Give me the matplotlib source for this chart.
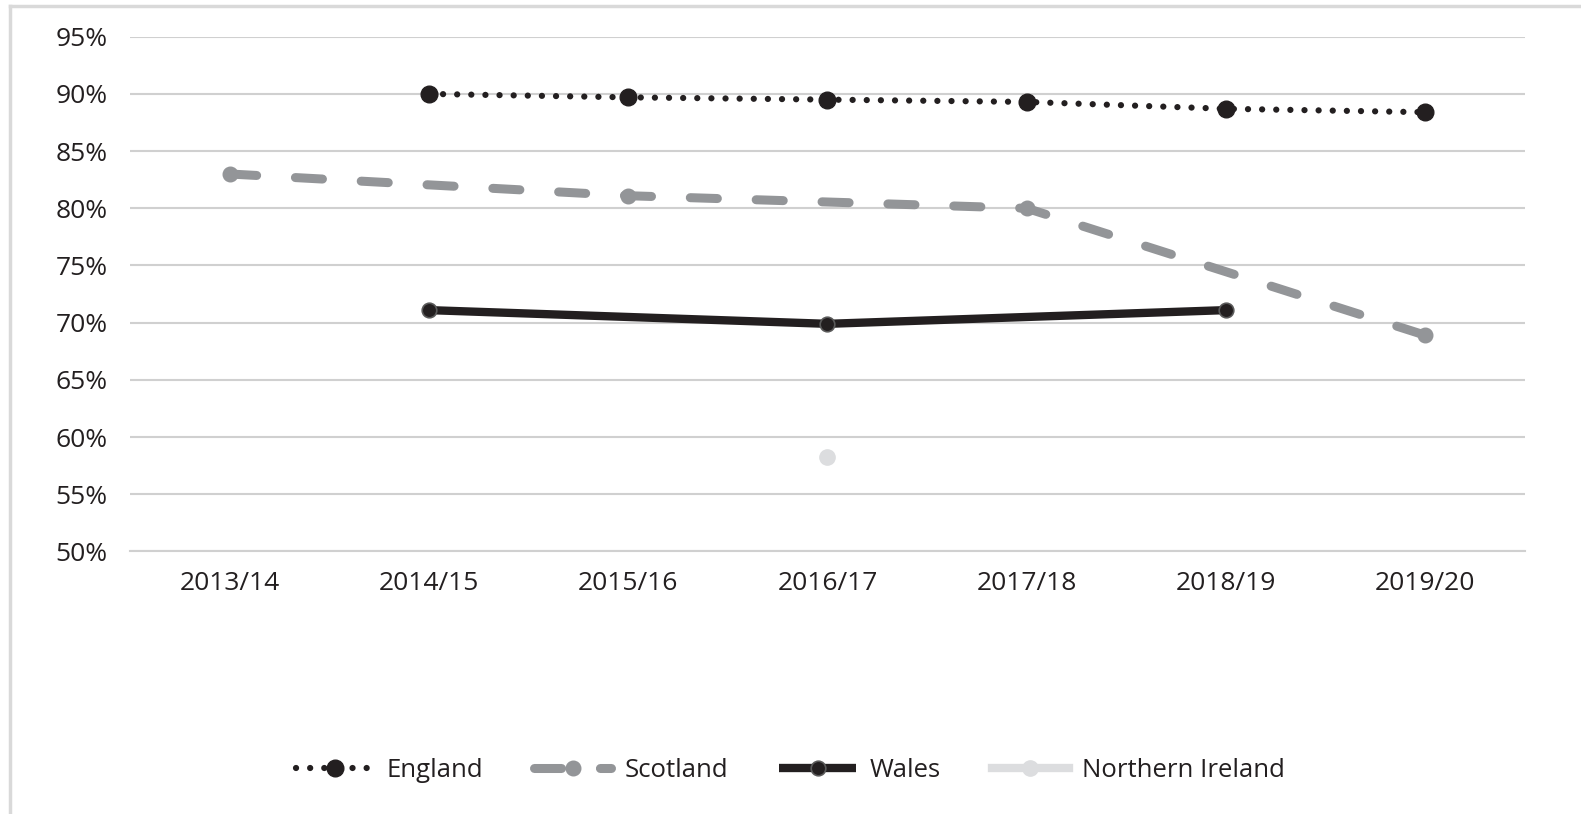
import matplotlib
matplotlib.use("Agg")
import matplotlib.pyplot as plt
import numpy as np

plt.rcParams['font.family'] = ['Open Sans', 'DejaVu Sans']

years = ["2013/14", "2014/15", "2015/16", "2016/17", "2017/18", "2018/19", "2019/20"]
england = [np.nan, 90.0, 89.7, 89.5, 89.3, 88.7, 88.4]
scotland = [83.0, np.nan, 81.1, np.nan, 80.0, np.nan, 68.9]
wales = [np.nan, 71.1, np.nan, 69.9, np.nan, 71.1, np.nan]
nireland = [np.nan, np.nan, np.nan, 58.3, np.nan, np.nan, np.nan]
yticks = [50, 55, 60, 65, 70, 75, 80, 85, 90, 95]

fig = plt.figure(figsize=(15.81, 8.14), dpi=100)
ax = fig.add_axes([0.0822, 0.3225, 0.8824, 0.6324])

x = np.arange(len(years))

def valid(vals):
    v = np.array(vals, dtype=float)
    m = ~np.isnan(v)
    return x[m], v[m]

xs, ys = valid(scotland)
ax.plot(xs, ys, color='#939598', lw=6.5, dashes=(3.0, 4.3),
        dash_capstyle='round', marker='o', ms=10.5, mfc='#939598', mec='#939598',
        label='Scotland', zorder=3)

xe, ye = valid(england)
ax.plot(xe, ye, color='#231f20', lw=4.5, dashes=(0.01, 2.25),
        dash_capstyle='round', marker='o', ms=12, mfc='#231f20', mec='#231f20',
        label='England', zorder=4)

xw, yw = valid(wales)
ax.plot(xw, yw, color='#231f20', lw=6.0, solid_capstyle='butt',
        marker='o', ms=10.5, mfc='#231f20', mec='#5a5a5a', mew=1.2,
        label='Wales', zorder=4)

xn, yn = valid(nireland)
ax.plot(xn, yn, color='#dcdddf', lw=6.0, marker='o', ms=11,
        mfc='#dcdddf', mec='#dcdddf', label='Northern Ireland', zorder=3)

ax.set_xlim(-0.5, len(years) - 0.5)
ax.set_ylim(50, 95)
ax.set_yticks(yticks)
ax.set_yticklabels([f"{t}%" for t in yticks])
ax.set_xticks(x)
ax.set_xticklabels(years)
ax.grid(axis='y', color='#d0d0d0', lw=1.5, zorder=0)
ax.set_axisbelow(True)
for s in ['top', 'right', 'left']:
    ax.spines[s].set_visible(False)
ax.spines['bottom'].set_color('#d0d0d0')
ax.spines['bottom'].set_linewidth(1.5)
ax.tick_params(axis='both', length=0, labelsize=19, colors='#231f20')
ax.tick_params(axis='y', pad=16)
ax.tick_params(axis='x', pad=14)

handles, labels = ax.get_legend_handles_labels()
order = [1, 0, 2, 3]
leg = fig.legend([handles[i] for i in order], [labels[i] for i in order],
                 loc='center', bbox_to_anchor=(0.5, 0.054), ncol=4, frameon=False,
                 fontsize=18.5, handlelength=3.0, handletextpad=0.5,
                 columnspacing=2.0, numpoints=1)
for t in leg.get_texts():
    t.set_color('#231f20')

# outer frame (left and top edges)
fig.add_artist(plt.Line2D([10/1581, 10/1581], [0, 1 - 6/814], transform=fig.transFigure,
                          color='#d9d9d9', lw=2.5))
fig.add_artist(plt.Line2D([10/1581, 1], [1 - 6/814, 1 - 6/814], transform=fig.transFigure,
                          color='#d9d9d9', lw=2.5))

fig.savefig('out.png', dpi=100, facecolor='white')
